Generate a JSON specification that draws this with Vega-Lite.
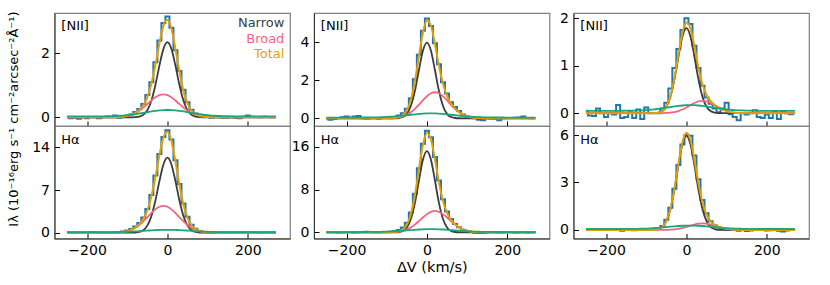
{
"$schema": "https://vega.github.io/schema/vega-lite/v6.json",
"padding": {"left": 7.5, "top": 10, "right": 10, "bottom": 8},
"background": "white",
"title": {"text": "Iλ (10⁻¹⁶erg s⁻¹ cm⁻²arcsec⁻²Å⁻¹)", "orient": "left", "anchor": "middle", "fontSize": 13, "fontWeight": "normal", "font": "DejaVu Sans", "color": "#000", "offset": 10, "dx": 23.5},
"config": {
  "font": "DejaVu Sans",
  "view": {"stroke": "#808080", "strokeWidth": 1.2},
  "axis": {"grid": false, "tickSize": -5, "tickColor": "#000", "tickWidth": 1, "labelFontSize": 14, "labelColor": "#000", "labelFont": "DejaVu Sans", "domainColor": "#333", "domainWidth": 1, "labelPadding": 10, "labelOverlap": false, "labelFlush": false, "titleFontSize": 14.5, "titleFontWeight": "normal", "titleColor": "#000", "titleFont": "DejaVu Sans", "titlePadding": 3},
  "line": {"strokeWidth": 1.8},
  "text": {"font": "DejaVu Sans", "fontSize": 13, "baseline": "middle"}
},
"datasets": {
"d": [
{"p":1,"v":-250,"h":0.01,"n":0,"b":0,"t":0,"g":0.03},
{"p":1,"v":-240,"h":-0.03,"n":0,"b":0,"t":0,"g":0.03},
{"p":1,"v":-230,"h":-0.02,"n":0,"b":0,"t":0,"g":0.03},
{"p":1,"v":-220,"h":-0.04,"n":0,"b":0,"t":0,"g":0.03},
{"p":1,"v":-210,"h":0,"n":0,"b":0,"t":0,"g":0.03},
{"p":1,"v":-200,"h":-0.03,"n":0,"b":0,"t":0,"g":0.03},
{"p":1,"v":-190,"h":0.01,"n":0,"b":0,"t":0,"g":0.03},
{"p":1,"v":-180,"h":0,"n":0,"b":0,"t":0,"g":0.031},
{"p":1,"v":-170,"h":-0.03,"n":0,"b":0,"t":0,"g":0.032},
{"p":1,"v":-160,"h":0,"n":0,"b":0,"t":0,"g":0.033},
{"p":1,"v":-150,"h":0.02,"n":0,"b":0.001,"t":0.001,"g":0.035},
{"p":1,"v":-140,"h":0,"n":0,"b":0.002,"t":0.002,"g":0.038},
{"p":1,"v":-130,"h":0.06,"n":0,"b":0.005,"t":0.005,"g":0.042},
{"p":1,"v":-120,"h":-0.01,"n":0,"b":0.011,"t":0.011,"g":0.049},
{"p":1,"v":-110,"h":0.02,"n":0,"b":0.023,"t":0.023,"g":0.057},
{"p":1,"v":-100,"h":0.05,"n":0,"b":0.044,"t":0.044,"g":0.068},
{"p":1,"v":-90,"h":0.09,"n":0.001,"b":0.079,"t":0.08,"g":0.082},
{"p":1,"v":-80,"h":0.17,"n":0.006,"b":0.132,"t":0.138,"g":0.099},
{"p":1,"v":-70,"h":0.26,"n":0.023,"b":0.207,"t":0.23,"g":0.119},
{"p":1,"v":-60,"h":0.42,"n":0.078,"b":0.303,"t":0.381,"g":0.14},
{"p":1,"v":-50,"h":0.7,"n":0.221,"b":0.414,"t":0.635,"g":0.162},
{"p":1,"v":-40,"h":1.1,"n":0.518,"b":0.527,"t":1.045,"g":0.184},
{"p":1,"v":-30,"h":1.72,"n":1.003,"b":0.627,"t":1.63,"g":0.202},
{"p":1,"v":-20,"h":2.4,"n":1.61,"b":0.696,"t":2.306,"g":0.217},
{"p":1,"v":-10,"h":2.95,"n":2.139,"b":0.72,"t":2.859,"g":0.227},
{"p":1,"v":0,"h":3.15,"n":2.35,"b":0.696,"t":3.046,"g":0.23},
{"p":1,"v":10,"h":2.8,"n":2.139,"b":0.627,"t":2.766,"g":0.227},
{"p":1,"v":20,"h":2.1,"n":1.61,"b":0.527,"t":2.137,"g":0.217},
{"p":1,"v":30,"h":1.45,"n":1.003,"b":0.414,"t":1.417,"g":0.202},
{"p":1,"v":40,"h":0.86,"n":0.518,"b":0.303,"t":0.821,"g":0.184},
{"p":1,"v":50,"h":0.47,"n":0.221,"b":0.207,"t":0.428,"g":0.162},
{"p":1,"v":60,"h":0.24,"n":0.078,"b":0.132,"t":0.21,"g":0.14},
{"p":1,"v":70,"h":0.12,"n":0.023,"b":0.079,"t":0.102,"g":0.119},
{"p":1,"v":80,"h":0.05,"n":0.006,"b":0.044,"t":0.05,"g":0.099},
{"p":1,"v":90,"h":0.04,"n":0.001,"b":0.023,"t":0.024,"g":0.082},
{"p":1,"v":100,"h":0.03,"n":0,"b":0.011,"t":0.011,"g":0.068},
{"p":1,"v":110,"h":-0.01,"n":0,"b":0.005,"t":0.005,"g":0.057},
{"p":1,"v":120,"h":0.03,"n":0,"b":0.002,"t":0.002,"g":0.049},
{"p":1,"v":130,"h":0,"n":0,"b":0.001,"t":0.001,"g":0.042},
{"p":1,"v":140,"h":-0.02,"n":0,"b":0,"t":0,"g":0.038},
{"p":1,"v":150,"h":-0.01,"n":0,"b":0,"t":0,"g":0.035},
{"p":1,"v":160,"h":0.02,"n":0,"b":0,"t":0,"g":0.033},
{"p":1,"v":170,"h":-0.02,"n":0,"b":0,"t":0,"g":0.032},
{"p":1,"v":180,"h":-0.03,"n":0,"b":0,"t":0,"g":0.031},
{"p":1,"v":190,"h":0.02,"n":0,"b":0,"t":0,"g":0.03},
{"p":1,"v":200,"h":0.06,"n":0,"b":0,"t":0,"g":0.03},
{"p":1,"v":210,"h":0.02,"n":0,"b":0,"t":0,"g":0.03},
{"p":1,"v":220,"h":0.01,"n":0,"b":0,"t":0,"g":0.03},
{"p":1,"v":230,"h":0,"n":0,"b":0,"t":0,"g":0.03},
{"p":1,"v":240,"h":0.02,"n":0,"b":0,"t":0,"g":0.03},
{"p":1,"v":250,"h":0.01,"n":0,"b":0,"t":0,"g":0.03},
{"p":1,"v":260,"h":0,"n":0,"b":0,"t":0,"g":0.03},
{"p":1,"v":270,"h":0.01,"n":0,"b":0,"t":0,"g":0.03},

{"p":2,"v":-250,"h":0.05,"n":0,"b":0,"t":0,"g":0.08},
{"p":2,"v":-240,"h":0,"n":0,"b":0,"t":0,"g":0.08},
{"p":2,"v":-230,"h":-0.05,"n":0,"b":0,"t":0,"g":0.08},
{"p":2,"v":-220,"h":0.03,"n":0,"b":0,"t":0,"g":0.08},
{"p":2,"v":-210,"h":0,"n":0,"b":0,"t":0,"g":0.08},
{"p":2,"v":-200,"h":-0.04,"n":0,"b":0,"t":0,"g":0.08},
{"p":2,"v":-190,"h":0.02,"n":0,"b":0,"t":0,"g":0.081},
{"p":2,"v":-180,"h":0.06,"n":0,"b":0,"t":0,"g":0.082},
{"p":2,"v":-170,"h":-0.03,"n":0,"b":0,"t":0,"g":0.083},
{"p":2,"v":-160,"h":0,"n":0,"b":0,"t":0,"g":0.086},
{"p":2,"v":-150,"h":-0.05,"n":0,"b":0.005,"t":0.005,"g":0.09},
{"p":2,"v":-140,"h":0.04,"n":0,"b":0.013,"t":0.013,"g":0.096},
{"p":2,"v":-130,"h":0.05,"n":0,"b":0.03,"t":0.03,"g":0.104},
{"p":2,"v":-120,"h":0.1,"n":0,"b":0.066,"t":0.066,"g":0.117},
{"p":2,"v":-110,"h":0.2,"n":0,"b":0.138,"t":0.138,"g":0.134},
{"p":2,"v":-100,"h":0.35,"n":0,"b":0.266,"t":0.266,"g":0.157},
{"p":2,"v":-90,"h":0.62,"n":0.006,"b":0.48,"t":0.486,"g":0.185},
{"p":2,"v":-80,"h":1.0,"n":0.03,"b":0.807,"t":0.837,"g":0.219},
{"p":2,"v":-70,"h":1.6,"n":0.12,"b":1.265,"t":1.385,"g":0.258},
{"p":2,"v":-60,"h":2.5,"n":0.41,"b":1.852,"t":2.262,"g":0.301},
{"p":2,"v":-50,"h":3.9,"n":1.157,"b":2.53,"t":3.687,"g":0.345},
{"p":2,"v":-40,"h":6.2,"n":2.71,"b":3.221,"t":5.931,"g":0.387},
{"p":2,"v":-30,"h":9.4,"n":5.25,"b":3.832,"t":9.082,"g":0.425},
{"p":2,"v":-20,"h":12.9,"n":8.43,"b":4.25,"t":12.68,"g":0.454},
{"p":2,"v":-10,"h":15.7,"n":11.19,"b":4.4,"t":15.59,"g":0.474},
{"p":2,"v":0,"h":16.8,"n":12.3,"b":4.25,"t":16.55,"g":0.48},
{"p":2,"v":10,"h":15.3,"n":11.19,"b":3.832,"t":15.02,"g":0.474},
{"p":2,"v":20,"h":11.9,"n":8.43,"b":3.221,"t":11.65,"g":0.454},
{"p":2,"v":30,"h":8.0,"n":5.25,"b":2.53,"t":7.78,"g":0.425},
{"p":2,"v":40,"h":4.8,"n":2.71,"b":1.852,"t":4.56,"g":0.387},
{"p":2,"v":50,"h":2.6,"n":1.157,"b":1.265,"t":2.42,"g":0.345},
{"p":2,"v":60,"h":1.3,"n":0.41,"b":0.807,"t":1.217,"g":0.301},
{"p":2,"v":70,"h":0.65,"n":0.12,"b":0.48,"t":0.6,"g":0.258},
{"p":2,"v":80,"h":0.3,"n":0.03,"b":0.266,"t":0.296,"g":0.219},
{"p":2,"v":90,"h":0.12,"n":0.006,"b":0.138,"t":0.144,"g":0.185},
{"p":2,"v":100,"h":0.06,"n":0,"b":0.066,"t":0.066,"g":0.157},
{"p":2,"v":110,"h":0,"n":0,"b":0.03,"t":0.03,"g":0.134},
{"p":2,"v":120,"h":-0.04,"n":0,"b":0.013,"t":0.013,"g":0.117},
{"p":2,"v":130,"h":0.03,"n":0,"b":0.005,"t":0.005,"g":0.104},
{"p":2,"v":140,"h":0,"n":0,"b":0,"t":0,"g":0.096},
{"p":2,"v":150,"h":0.05,"n":0,"b":0,"t":0,"g":0.09},
{"p":2,"v":160,"h":-0.02,"n":0,"b":0,"t":0,"g":0.086},
{"p":2,"v":170,"h":0,"n":0,"b":0,"t":0,"g":0.083},
{"p":2,"v":180,"h":0.04,"n":0,"b":0,"t":0,"g":0.082},
{"p":2,"v":190,"h":-0.03,"n":0,"b":0,"t":0,"g":0.081},
{"p":2,"v":200,"h":0.02,"n":0,"b":0,"t":0,"g":0.08},
{"p":2,"v":210,"h":0.06,"n":0,"b":0,"t":0,"g":0.08},
{"p":2,"v":220,"h":0,"n":0,"b":0,"t":0,"g":0.08},
{"p":2,"v":230,"h":-0.04,"n":0,"b":0,"t":0,"g":0.08},
{"p":2,"v":240,"h":0.02,"n":0,"b":0,"t":0,"g":0.08},
{"p":2,"v":250,"h":0,"n":0,"b":0,"t":0,"g":0.08},
{"p":2,"v":260,"h":0.03,"n":0,"b":0,"t":0,"g":0.08},
{"p":2,"v":270,"h":0,"n":0,"b":0,"t":0,"g":0.08},

{"p":3,"v":-250,"h":-0.03,"n":0,"b":0,"t":0,"g":0.04},
{"p":3,"v":-240,"h":-0.08,"n":0,"b":0,"t":0,"g":0.04},
{"p":3,"v":-230,"h":-0.04,"n":0,"b":0,"t":0,"g":0.04},
{"p":3,"v":-220,"h":0.02,"n":0,"b":0,"t":0,"g":0.04},
{"p":3,"v":-210,"h":0.05,"n":0,"b":0,"t":0,"g":0.04},
{"p":3,"v":-200,"h":0.1,"n":0,"b":0,"t":0,"g":0.04},
{"p":3,"v":-190,"h":0.04,"n":0,"b":0,"t":0,"g":0.04},
{"p":3,"v":-180,"h":0.1,"n":0,"b":0,"t":0,"g":0.04},
{"p":3,"v":-170,"h":0.12,"n":0,"b":0,"t":0,"g":0.041},
{"p":3,"v":-160,"h":0,"n":0,"b":0,"t":0,"g":0.042},
{"p":3,"v":-150,"h":-0.03,"n":0,"b":0,"t":0,"g":0.043},
{"p":3,"v":-140,"h":0,"n":0,"b":0,"t":0,"g":0.045},
{"p":3,"v":-130,"h":0.02,"n":0,"b":0,"t":0,"g":0.049},
{"p":3,"v":-120,"h":-0.02,"n":0,"b":0,"t":0,"g":0.054},
{"p":3,"v":-110,"h":0.01,"n":0,"b":0.001,"t":0.001,"g":0.06},
{"p":3,"v":-100,"h":0.03,"n":0,"b":0.004,"t":0.004,"g":0.07},
{"p":3,"v":-90,"h":0,"n":0,"b":0.01,"t":0.01,"g":0.082},
{"p":3,"v":-80,"h":0.05,"n":0.003,"b":0.023,"t":0.026,"g":0.098},
{"p":3,"v":-70,"h":0.15,"n":0.016,"b":0.05,"t":0.066,"g":0.116},
{"p":3,"v":-60,"h":0.27,"n":0.067,"b":0.101,"t":0.168,"g":0.138},
{"p":3,"v":-50,"h":0.5,"n":0.234,"b":0.185,"t":0.419,"g":0.161},
{"p":3,"v":-40,"h":1.05,"n":0.649,"b":0.315,"t":0.964,"g":0.186},
{"p":3,"v":-30,"h":2.05,"n":1.433,"b":0.493,"t":1.926,"g":0.209},
{"p":3,"v":-20,"h":3.35,"n":2.527,"b":0.712,"t":3.239,"g":0.23},
{"p":3,"v":-10,"h":4.6,"n":3.554,"b":0.949,"t":4.503,"g":0.246},
{"p":3,"v":0,"h":5.25,"n":3.98,"b":1.163,"t":5.143,"g":0.257},
{"p":3,"v":10,"h":4.85,"n":3.554,"b":1.315,"t":4.869,"g":0.26},
{"p":3,"v":20,"h":3.95,"n":2.527,"b":1.37,"t":3.897,"g":0.257},
{"p":3,"v":30,"h":2.85,"n":1.433,"b":1.315,"t":2.748,"g":0.246},
{"p":3,"v":40,"h":1.9,"n":0.649,"b":1.163,"t":1.812,"g":0.23},
{"p":3,"v":50,"h":1.3,"n":0.234,"b":0.949,"t":1.183,"g":0.209},
{"p":3,"v":60,"h":0.85,"n":0.067,"b":0.712,"t":0.779,"g":0.186},
{"p":3,"v":70,"h":0.6,"n":0.016,"b":0.493,"t":0.509,"g":0.161},
{"p":3,"v":80,"h":0.38,"n":0.003,"b":0.315,"t":0.318,"g":0.138},
{"p":3,"v":90,"h":0.2,"n":0,"b":0.185,"t":0.185,"g":0.116},
{"p":3,"v":100,"h":0.1,"n":0,"b":0.101,"t":0.101,"g":0.098},
{"p":3,"v":110,"h":0.02,"n":0,"b":0.05,"t":0.05,"g":0.082},
{"p":3,"v":120,"h":0,"n":0,"b":0.023,"t":0.023,"g":0.07},
{"p":3,"v":130,"h":-0.08,"n":0,"b":0.01,"t":0.01,"g":0.06},
{"p":3,"v":140,"h":-0.1,"n":0,"b":0.004,"t":0.004,"g":0.054},
{"p":3,"v":150,"h":0,"n":0,"b":0.001,"t":0.001,"g":0.049},
{"p":3,"v":160,"h":-0.02,"n":0,"b":0,"t":0,"g":0.045},
{"p":3,"v":170,"h":-0.02,"n":0,"b":0,"t":0,"g":0.043},
{"p":3,"v":180,"h":-0.1,"n":0,"b":0,"t":0,"g":0.042},
{"p":3,"v":190,"h":0,"n":0,"b":0,"t":0,"g":0.041},
{"p":3,"v":200,"h":0.02,"n":0,"b":0,"t":0,"g":0.04},
{"p":3,"v":210,"h":0.01,"n":0,"b":0,"t":0,"g":0.04},
{"p":3,"v":220,"h":0.03,"n":0,"b":0,"t":0,"g":0.04},
{"p":3,"v":230,"h":0.04,"n":0,"b":0,"t":0,"g":0.04},
{"p":3,"v":240,"h":0.1,"n":0,"b":0,"t":0,"g":0.04},
{"p":3,"v":250,"h":0.02,"n":0,"b":0,"t":0,"g":0.04},
{"p":3,"v":260,"h":0,"n":0,"b":0,"t":0,"g":0.04},
{"p":3,"v":270,"h":0.02,"n":0,"b":0,"t":0,"g":0.04},

{"p":4,"v":-250,"h":0,"n":0,"b":0,"t":0,"g":0.05},
{"p":4,"v":-240,"h":0.05,"n":0,"b":0,"t":0,"g":0.05},
{"p":4,"v":-230,"h":0,"n":0,"b":0,"t":0,"g":0.05},
{"p":4,"v":-220,"h":-0.05,"n":0,"b":0,"t":0,"g":0.05},
{"p":4,"v":-210,"h":0.02,"n":0,"b":0,"t":0,"g":0.05},
{"p":4,"v":-200,"h":0,"n":0,"b":0,"t":0,"g":0.05},
{"p":4,"v":-190,"h":0.04,"n":0,"b":0,"t":0,"g":0.05},
{"p":4,"v":-180,"h":-0.03,"n":0,"b":0,"t":0,"g":0.052},
{"p":4,"v":-170,"h":0,"n":0,"b":0,"t":0,"g":0.053},
{"p":4,"v":-160,"h":0.05,"n":0,"b":0,"t":0,"g":0.055},
{"p":4,"v":-150,"h":0.12,"n":0,"b":0,"t":0,"g":0.058},
{"p":4,"v":-140,"h":0.08,"n":0,"b":0,"t":0,"g":0.063},
{"p":4,"v":-130,"h":0,"n":0,"b":0,"t":0,"g":0.072},
{"p":4,"v":-120,"h":0.03,"n":0,"b":0,"t":0,"g":0.084},
{"p":4,"v":-110,"h":0.05,"n":0,"b":0.004,"t":0.004,"g":0.101},
{"p":4,"v":-100,"h":0.06,"n":0,"b":0.011,"t":0.011,"g":0.124},
{"p":4,"v":-90,"h":0.1,"n":0,"b":0.029,"t":0.029,"g":0.155},
{"p":4,"v":-80,"h":0.2,"n":0.011,"b":0.068,"t":0.079,"g":0.194},
{"p":4,"v":-70,"h":0.45,"n":0.059,"b":0.147,"t":0.206,"g":0.241},
{"p":4,"v":-60,"h":0.9,"n":0.257,"b":0.294,"t":0.551,"g":0.295},
{"p":4,"v":-50,"h":1.8,"n":0.894,"b":0.541,"t":1.435,"g":0.353},
{"p":4,"v":-40,"h":3.7,"n":2.478,"b":0.92,"t":3.398,"g":0.414},
{"p":4,"v":-30,"h":7.2,"n":5.47,"b":1.44,"t":6.91,"g":0.472},
{"p":4,"v":-20,"h":12.0,"n":9.65,"b":2.08,"t":11.73,"g":0.524},
{"p":4,"v":-10,"h":16.6,"n":13.57,"b":2.772,"t":16.34,"g":0.565},
{"p":4,"v":0,"h":19.0,"n":15.2,"b":3.396,"t":18.6,"g":0.591},
{"p":4,"v":10,"h":17.8,"n":13.57,"b":3.84,"t":17.41,"g":0.6},
{"p":4,"v":20,"h":14.1,"n":9.65,"b":4.0,"t":13.65,"g":0.591},
{"p":4,"v":30,"h":9.7,"n":5.47,"b":3.84,"t":9.31,"g":0.565},
{"p":4,"v":40,"h":6.2,"n":2.478,"b":3.396,"t":5.874,"g":0.524},
{"p":4,"v":50,"h":3.9,"n":0.894,"b":2.772,"t":3.666,"g":0.472},
{"p":4,"v":60,"h":2.5,"n":0.257,"b":2.08,"t":2.337,"g":0.414},
{"p":4,"v":70,"h":1.55,"n":0.059,"b":1.44,"t":1.499,"g":0.353},
{"p":4,"v":80,"h":0.95,"n":0.011,"b":0.92,"t":0.931,"g":0.295},
{"p":4,"v":90,"h":0.5,"n":0,"b":0.541,"t":0.541,"g":0.241},
{"p":4,"v":100,"h":0.25,"n":0,"b":0.294,"t":0.294,"g":0.194},
{"p":4,"v":110,"h":0.08,"n":0,"b":0.147,"t":0.147,"g":0.155},
{"p":4,"v":120,"h":-0.1,"n":0,"b":0.068,"t":0.068,"g":0.124},
{"p":4,"v":130,"h":-0.15,"n":0,"b":0.029,"t":0.029,"g":0.101},
{"p":4,"v":140,"h":-0.12,"n":0,"b":0.011,"t":0.011,"g":0.084},
{"p":4,"v":150,"h":-0.05,"n":0,"b":0.004,"t":0.004,"g":0.072},
{"p":4,"v":160,"h":0.02,"n":0,"b":0,"t":0,"g":0.063},
{"p":4,"v":170,"h":0,"n":0,"b":0,"t":0,"g":0.058},
{"p":4,"v":180,"h":-0.04,"n":0,"b":0,"t":0,"g":0.055},
{"p":4,"v":190,"h":0.03,"n":0,"b":0,"t":0,"g":0.053},
{"p":4,"v":200,"h":0,"n":0,"b":0,"t":0,"g":0.052},
{"p":4,"v":210,"h":0.05,"n":0,"b":0,"t":0,"g":0.05},
{"p":4,"v":220,"h":-0.02,"n":0,"b":0,"t":0,"g":0.05},
{"p":4,"v":230,"h":0,"n":0,"b":0,"t":0,"g":0.05},
{"p":4,"v":240,"h":0.04,"n":0,"b":0,"t":0,"g":0.05},
{"p":4,"v":250,"h":-0.03,"n":0,"b":0,"t":0,"g":0.05},
{"p":4,"v":260,"h":0.02,"n":0,"b":0,"t":0,"g":0.05},
{"p":4,"v":270,"h":0,"n":0,"b":0,"t":0,"g":0.05},

{"p":5,"v":-250,"h":0.05,"n":0,"b":0,"t":0,"g":0.05},
{"p":5,"v":-240,"h":-0.05,"n":0,"b":0,"t":0,"g":0.05},
{"p":5,"v":-230,"h":-0.06,"n":0,"b":0,"t":0,"g":0.05},
{"p":5,"v":-220,"h":0.1,"n":0,"b":0,"t":0,"g":0.05},
{"p":5,"v":-210,"h":0,"n":0,"b":0,"t":0,"g":0.05},
{"p":5,"v":-200,"h":-0.08,"n":0,"b":0,"t":0,"g":0.05},
{"p":5,"v":-190,"h":0,"n":0,"b":0,"t":0,"g":0.05},
{"p":5,"v":-180,"h":-0.03,"n":0,"b":0,"t":0,"g":0.05},
{"p":5,"v":-170,"h":0.17,"n":0,"b":0,"t":0,"g":0.05},
{"p":5,"v":-160,"h":-0.1,"n":0,"b":0,"t":0,"g":0.051},
{"p":5,"v":-150,"h":-0.08,"n":0,"b":0,"t":0,"g":0.052},
{"p":5,"v":-140,"h":0.02,"n":0,"b":0,"t":0,"g":0.053},
{"p":5,"v":-130,"h":-0.1,"n":0,"b":0,"t":0,"g":0.055},
{"p":5,"v":-120,"h":0.08,"n":0,"b":0,"t":0,"g":0.057},
{"p":5,"v":-110,"h":-0.12,"n":0,"b":0,"t":0,"g":0.061},
{"p":5,"v":-100,"h":0.12,"n":0,"b":0,"t":0,"g":0.066},
{"p":5,"v":-90,"h":0,"n":0,"b":0,"t":0,"g":0.073},
{"p":5,"v":-80,"h":0,"n":0.002,"b":0,"t":0.002,"g":0.081},
{"p":5,"v":-70,"h":0,"n":0.011,"b":0,"t":0.011,"g":0.092},
{"p":5,"v":-60,"h":0.1,"n":0.044,"b":0.002,"t":0.046,"g":0.103},
{"p":5,"v":-50,"h":0.22,"n":0.135,"b":0.005,"t":0.14,"g":0.116},
{"p":5,"v":-40,"h":0.52,"n":0.343,"b":0.011,"t":0.354,"g":0.129},
{"p":5,"v":-30,"h":0.95,"n":0.706,"b":0.024,"t":0.73,"g":0.142},
{"p":5,"v":-20,"h":1.35,"n":1.184,"b":0.045,"t":1.229,"g":0.153},
{"p":5,"v":-10,"h":1.75,"n":1.615,"b":0.077,"t":1.692,"g":0.162},
{"p":5,"v":0,"h":2.0,"n":1.79,"b":0.119,"t":1.909,"g":0.168},
{"p":5,"v":10,"h":1.88,"n":1.615,"b":0.167,"t":1.782,"g":0.17},
{"p":5,"v":20,"h":1.42,"n":1.184,"b":0.214,"t":1.398,"g":0.168},
{"p":5,"v":30,"h":0.95,"n":0.706,"b":0.248,"t":0.954,"g":0.162},
{"p":5,"v":40,"h":0.58,"n":0.343,"b":0.26,"t":0.603,"g":0.153},
{"p":5,"v":50,"h":0.33,"n":0.135,"b":0.248,"t":0.383,"g":0.142},
{"p":5,"v":60,"h":0.2,"n":0.044,"b":0.214,"t":0.258,"g":0.129},
{"p":5,"v":70,"h":0.1,"n":0.011,"b":0.167,"t":0.178,"g":0.116},
{"p":5,"v":80,"h":0.02,"n":0.002,"b":0.119,"t":0.121,"g":0.103},
{"p":5,"v":90,"h":0.1,"n":0,"b":0.077,"t":0.077,"g":0.092},
{"p":5,"v":100,"h":0.22,"n":0,"b":0.045,"t":0.045,"g":0.081},
{"p":5,"v":110,"h":-0.02,"n":0,"b":0.024,"t":0.024,"g":0.073},
{"p":5,"v":120,"h":-0.08,"n":0,"b":0.011,"t":0.011,"g":0.066},
{"p":5,"v":130,"h":-0.15,"n":0,"b":0.005,"t":0.005,"g":0.061},
{"p":5,"v":140,"h":0,"n":0,"b":0.002,"t":0.002,"g":0.057},
{"p":5,"v":150,"h":-0.03,"n":0,"b":0,"t":0,"g":0.055},
{"p":5,"v":160,"h":0,"n":0,"b":0,"t":0,"g":0.053},
{"p":5,"v":170,"h":0.06,"n":0,"b":0,"t":0,"g":0.052},
{"p":5,"v":180,"h":-0.08,"n":0,"b":0,"t":0,"g":0.051},
{"p":5,"v":190,"h":-0.1,"n":0,"b":0,"t":0,"g":0.05},
{"p":5,"v":200,"h":-0.03,"n":0,"b":0,"t":0,"g":0.05},
{"p":5,"v":210,"h":-0.1,"n":0,"b":0,"t":0,"g":0.05},
{"p":5,"v":220,"h":0.04,"n":0,"b":0,"t":0,"g":0.05},
{"p":5,"v":230,"h":-0.12,"n":0,"b":0,"t":0,"g":0.05},
{"p":5,"v":240,"h":0.03,"n":0,"b":0,"t":0,"g":0.05},
{"p":5,"v":250,"h":0,"n":0,"b":0,"t":0,"g":0.05},
{"p":5,"v":260,"h":-0.02,"n":0,"b":0,"t":0,"g":0.05},
{"p":5,"v":270,"h":0,"n":0,"b":0,"t":0,"g":0.05},

{"p":6,"v":-250,"h":0,"n":0,"b":0,"t":0,"g":0.06},
{"p":6,"v":-240,"h":0.02,"n":0,"b":0,"t":0,"g":0.06},
{"p":6,"v":-230,"h":0.05,"n":0,"b":0,"t":0,"g":0.06},
{"p":6,"v":-220,"h":0,"n":0,"b":0,"t":0,"g":0.06},
{"p":6,"v":-210,"h":0.03,"n":0,"b":0,"t":0,"g":0.06},
{"p":6,"v":-200,"h":0.06,"n":0,"b":0,"t":0,"g":0.06},
{"p":6,"v":-190,"h":0.04,"n":0,"b":0,"t":0,"g":0.06},
{"p":6,"v":-180,"h":0,"n":0,"b":0,"t":0,"g":0.06},
{"p":6,"v":-170,"h":0.02,"n":0,"b":0,"t":0,"g":0.061},
{"p":6,"v":-160,"h":-0.05,"n":0,"b":0,"t":0,"g":0.062},
{"p":6,"v":-150,"h":0,"n":0,"b":0,"t":0,"g":0.063},
{"p":6,"v":-140,"h":0.04,"n":0,"b":0,"t":0,"g":0.065},
{"p":6,"v":-130,"h":-0.02,"n":0,"b":0,"t":0,"g":0.069},
{"p":6,"v":-120,"h":0,"n":0,"b":0,"t":0,"g":0.074},
{"p":6,"v":-110,"h":0.05,"n":0,"b":0,"t":0,"g":0.08},
{"p":6,"v":-100,"h":0.02,"n":0,"b":0,"t":0,"g":0.09},
{"p":6,"v":-90,"h":0,"n":0.003,"b":0,"t":0.003,"g":0.102},
{"p":6,"v":-80,"h":0.03,"n":0.014,"b":0,"t":0.014,"g":0.118},
{"p":6,"v":-70,"h":0.08,"n":0.058,"b":0.001,"t":0.059,"g":0.136},
{"p":6,"v":-60,"h":0.25,"n":0.198,"b":0.003,"t":0.201,"g":0.158},
{"p":6,"v":-50,"h":0.65,"n":0.56,"b":0.008,"t":0.568,"g":0.181},
{"p":6,"v":-40,"h":1.4,"n":1.311,"b":0.018,"t":1.329,"g":0.206},
{"p":6,"v":-30,"h":2.6,"n":2.541,"b":0.038,"t":2.579,"g":0.229},
{"p":6,"v":-20,"h":4.1,"n":4.076,"b":0.072,"t":4.148,"g":0.25},
{"p":6,"v":-10,"h":5.4,"n":5.415,"b":0.124,"t":5.539,"g":0.266},
{"p":6,"v":0,"h":6.0,"n":5.95,"b":0.192,"t":6.142,"g":0.277},
{"p":6,"v":10,"h":5.95,"n":5.415,"b":0.27,"t":5.685,"g":0.28},
{"p":6,"v":20,"h":4.7,"n":4.076,"b":0.345,"t":4.421,"g":0.277},
{"p":6,"v":30,"h":3.2,"n":2.541,"b":0.4,"t":2.941,"g":0.266},
{"p":6,"v":40,"h":1.9,"n":1.311,"b":0.42,"t":1.731,"g":0.25},
{"p":6,"v":50,"h":1.05,"n":0.56,"b":0.4,"t":0.96,"g":0.229},
{"p":6,"v":60,"h":0.55,"n":0.198,"b":0.345,"t":0.543,"g":0.206},
{"p":6,"v":70,"h":0.3,"n":0.058,"b":0.27,"t":0.328,"g":0.181},
{"p":6,"v":80,"h":0.15,"n":0.014,"b":0.192,"t":0.206,"g":0.158},
{"p":6,"v":90,"h":0.06,"n":0.003,"b":0.124,"t":0.127,"g":0.136},
{"p":6,"v":100,"h":0.02,"n":0,"b":0.072,"t":0.072,"g":0.118},
{"p":6,"v":110,"h":0,"n":0,"b":0.038,"t":0.038,"g":0.102},
{"p":6,"v":120,"h":0.05,"n":0,"b":0.018,"t":0.018,"g":0.09},
{"p":6,"v":130,"h":-0.05,"n":0,"b":0.008,"t":0.008,"g":0.08},
{"p":6,"v":140,"h":0,"n":0,"b":0.003,"t":0.003,"g":0.074},
{"p":6,"v":150,"h":-0.07,"n":0,"b":0.001,"t":0.001,"g":0.069},
{"p":6,"v":160,"h":-0.03,"n":0,"b":0,"t":0,"g":0.065},
{"p":6,"v":170,"h":0.02,"n":0,"b":0,"t":0,"g":0.063},
{"p":6,"v":180,"h":0,"n":0,"b":0,"t":0,"g":0.062},
{"p":6,"v":190,"h":0.05,"n":0,"b":0,"t":0,"g":0.061},
{"p":6,"v":200,"h":-0.04,"n":0,"b":0,"t":0,"g":0.06},
{"p":6,"v":210,"h":-0.02,"n":0,"b":0,"t":0,"g":0.06},
{"p":6,"v":220,"h":0,"n":0,"b":0,"t":0,"g":0.06},
{"p":6,"v":230,"h":-0.05,"n":0,"b":0,"t":0,"g":0.06},
{"p":6,"v":240,"h":-0.1,"n":0,"b":0,"t":0,"g":0.06},
{"p":6,"v":250,"h":-0.03,"n":0,"b":0,"t":0,"g":0.06},
{"p":6,"v":260,"h":0.02,"n":0,"b":0,"t":0,"g":0.06},
{"p":6,"v":270,"h":0,"n":0,"b":0,"t":0,"g":0.06}
]
},
"columns": 3,
"spacing": {"row": 0, "column": 23.5},
"bounds": "flush",
"concat": [
{
 "width": 235.5, "height": 113,
 "data": {"name": "d"}, "transform": [{"filter": "datum.p == 1"}],
 "encoding": {"x": {"field": "v", "type": "quantitative", "title": null, "scale": {"domain": [-281, 305], "nice": false, "zero": false}, "axis": {"values": [-200, 0, 200], "labels": false}}},
 "layer": [
  {"mark": {"type": "line", "interpolate": "step", "color": "#1f77b4", "strokeWidth": 2}, "encoding": {"y": {"field": "h", "type": "quantitative", "title": null, "scale": {"domain": [-0.27, 3.26], "nice": false, "zero": false}, "axis": {"values": [0, 2], "format": "d"}}}},
  {"mark": {"type": "line", "interpolate": "monotone", "color": "#3d3d3d"}, "encoding": {"y": {"field": "n", "type": "quantitative", "title": null}}},
  {"mark": {"type": "line", "interpolate": "monotone", "color": "#f0677c"}, "encoding": {"y": {"field": "b", "type": "quantitative", "title": null}}},
  {"mark": {"type": "line", "interpolate": "monotone", "color": "#e69f00", "strokeWidth": 2}, "encoding": {"y": {"field": "t", "type": "quantitative", "title": null}}},
  {"mark": {"type": "line", "interpolate": "monotone", "color": "#1aa77a"}, "encoding": {"y": {"field": "g", "type": "quantitative", "title": null}}},
  {"transform": [{"filter": "datum.v == 0"}], "mark": {"type": "text", "align": "left", "color": "#000"}, "encoding": {"x": {"datum": -264, "type": "quantitative"}, "y": {"datum": 2.85, "type": "quantitative"}, "text": {"value": "[NII]"}}},
  {"transform": [{"filter": "datum.v == 0"}], "mark": {"type": "text", "align": "right", "color": "#3d3d3d"}, "encoding": {"x": {"datum": 291, "type": "quantitative"}, "y": {"datum": 2.957, "type": "quantitative"}, "text": {"value": "Narrow"}}},
  {"transform": [{"filter": "datum.v == 0"}], "mark": {"type": "text", "align": "right", "color": "#f0677c"}, "encoding": {"x": {"datum": 291, "type": "quantitative"}, "y": {"datum": 2.447, "type": "quantitative"}, "text": {"value": "Broad"}}},
  {"transform": [{"filter": "datum.v == 0"}], "mark": {"type": "text", "align": "right", "color": "#e69f00"}, "encoding": {"x": {"datum": 291, "type": "quantitative"}, "y": {"datum": 1.97, "type": "quantitative"}, "text": {"value": "Total"}}}
 ]
},
{
 "width": 235.5, "height": 113,
 "data": {"name": "d"}, "transform": [{"filter": "datum.p == 3"}],
 "encoding": {"x": {"field": "v", "type": "quantitative", "title": null, "scale": {"domain": [-281, 305], "nice": false, "zero": false}, "axis": {"values": [-200, 0, 200], "labels": false}}},
 "layer": [
  {"mark": {"type": "line", "interpolate": "step", "color": "#1f77b4", "strokeWidth": 2}, "encoding": {"y": {"field": "h", "type": "quantitative", "title": null, "scale": {"domain": [-0.405, 5.54], "nice": false, "zero": false}, "axis": {"values": [0, 2, 4], "format": "d"}}}},
  {"mark": {"type": "line", "interpolate": "monotone", "color": "#3d3d3d"}, "encoding": {"y": {"field": "n", "type": "quantitative", "title": null}}},
  {"mark": {"type": "line", "interpolate": "monotone", "color": "#f0677c"}, "encoding": {"y": {"field": "b", "type": "quantitative", "title": null}}},
  {"mark": {"type": "line", "interpolate": "monotone", "color": "#e69f00", "strokeWidth": 2}, "encoding": {"y": {"field": "t", "type": "quantitative", "title": null}}},
  {"mark": {"type": "line", "interpolate": "monotone", "color": "#1aa77a"}, "encoding": {"y": {"field": "g", "type": "quantitative", "title": null}}},
  {"transform": [{"filter": "datum.v == 0"}], "mark": {"type": "text", "align": "left", "color": "#000"}, "encoding": {"x": {"datum": -264, "type": "quantitative"}, "y": {"datum": 4.86, "type": "quantitative"}, "text": {"value": "[NII]"}}}
 ]
},
{
 "width": 235.5, "height": 113,
 "data": {"name": "d"}, "transform": [{"filter": "datum.p == 5"}],
 "encoding": {"x": {"field": "v", "type": "quantitative", "title": null, "scale": {"domain": [-281, 305], "nice": false, "zero": false}, "axis": {"values": [-200, 0, 200], "labels": false}}},
 "layer": [
  {"mark": {"type": "line", "interpolate": "step", "color": "#1f77b4", "strokeWidth": 2}, "encoding": {"y": {"field": "h", "type": "quantitative", "title": null, "scale": {"domain": [-0.27, 2.11], "nice": false, "zero": false}, "axis": {"values": [0, 1, 2], "format": "d"}}}},
  {"mark": {"type": "line", "interpolate": "monotone", "color": "#3d3d3d"}, "encoding": {"y": {"field": "n", "type": "quantitative", "title": null}}},
  {"mark": {"type": "line", "interpolate": "monotone", "color": "#f0677c"}, "encoding": {"y": {"field": "b", "type": "quantitative", "title": null}}},
  {"mark": {"type": "line", "interpolate": "monotone", "color": "#e69f00", "strokeWidth": 2}, "encoding": {"y": {"field": "t", "type": "quantitative", "title": null}}},
  {"mark": {"type": "line", "interpolate": "monotone", "color": "#1aa77a"}, "encoding": {"y": {"field": "g", "type": "quantitative", "title": null}}},
  {"transform": [{"filter": "datum.v == 0"}], "mark": {"type": "text", "align": "left", "color": "#000"}, "encoding": {"x": {"datum": -264, "type": "quantitative"}, "y": {"datum": 1.836, "type": "quantitative"}, "text": {"value": "[NII]"}}}
 ]
},
{
 "width": 235.5, "height": 112.5,
 "data": {"name": "d"}, "transform": [{"filter": "datum.p == 2"}],
 "encoding": {"x": {"field": "v", "type": "quantitative", "title": null, "scale": {"domain": [-281, 305], "nice": false, "zero": false}, "axis": {"values": [-200, 0, 200]}}},
 "layer": [
  {"mark": {"type": "line", "interpolate": "step", "color": "#1f77b4", "strokeWidth": 2}, "encoding": {"y": {"field": "h", "type": "quantitative", "title": null, "scale": {"domain": [-0.95, 17.5], "nice": false, "zero": false}, "axis": {"values": [0, 7, 14], "format": "d"}}}},
  {"mark": {"type": "line", "interpolate": "monotone", "color": "#3d3d3d"}, "encoding": {"y": {"field": "n", "type": "quantitative", "title": null}}},
  {"mark": {"type": "line", "interpolate": "monotone", "color": "#f0677c"}, "encoding": {"y": {"field": "b", "type": "quantitative", "title": null}}},
  {"mark": {"type": "line", "interpolate": "monotone", "color": "#e69f00", "strokeWidth": 2}, "encoding": {"y": {"field": "t", "type": "quantitative", "title": null}}},
  {"mark": {"type": "line", "interpolate": "monotone", "color": "#1aa77a"}, "encoding": {"y": {"field": "g", "type": "quantitative", "title": null}}},
  {"transform": [{"filter": "datum.v == 0"}], "mark": {"type": "text", "align": "left", "color": "#000"}, "encoding": {"x": {"datum": -264, "type": "quantitative"}, "y": {"datum": 15.19, "type": "quantitative"}, "text": {"value": "Hα"}}}
 ]
},
{
 "width": 235.5, "height": 112.5,
 "data": {"name": "d"}, "transform": [{"filter": "datum.p == 4"}],
 "encoding": {"x": {"field": "v", "type": "quantitative", "title": "ΔV (km/s)", "scale": {"domain": [-281, 305], "nice": false, "zero": false}, "axis": {"values": [-200, 0, 200]}}},
 "layer": [
  {"mark": {"type": "line", "interpolate": "step", "color": "#1f77b4", "strokeWidth": 2}, "encoding": {"y": {"field": "h", "type": "quantitative", "title": null, "scale": {"domain": [-1.16, 19.9], "nice": false, "zero": false}, "axis": {"values": [0, 8, 16], "format": "d"}}}},
  {"mark": {"type": "line", "interpolate": "monotone", "color": "#3d3d3d"}, "encoding": {"y": {"field": "n", "type": "quantitative", "title": null}}},
  {"mark": {"type": "line", "interpolate": "monotone", "color": "#f0677c"}, "encoding": {"y": {"field": "b", "type": "quantitative", "title": null}}},
  {"mark": {"type": "line", "interpolate": "monotone", "color": "#e69f00", "strokeWidth": 2}, "encoding": {"y": {"field": "t", "type": "quantitative", "title": null}}},
  {"mark": {"type": "line", "interpolate": "monotone", "color": "#1aa77a"}, "encoding": {"y": {"field": "g", "type": "quantitative", "title": null}}},
  {"transform": [{"filter": "datum.v == 0"}], "mark": {"type": "text", "align": "left", "color": "#000"}, "encoding": {"x": {"datum": -264, "type": "quantitative"}, "y": {"datum": 17.27, "type": "quantitative"}, "text": {"value": "Hα"}}}
 ]
},
{
 "width": 235.5, "height": 112.5,
 "data": {"name": "d"}, "transform": [{"filter": "datum.p == 6"}],
 "encoding": {"x": {"field": "v", "type": "quantitative", "title": null, "scale": {"domain": [-281, 305], "nice": false, "zero": false}, "axis": {"values": [-200, 0, 200]}}},
 "layer": [
  {"mark": {"type": "line", "interpolate": "step", "color": "#1f77b4", "strokeWidth": 2}, "encoding": {"y": {"field": "h", "type": "quantitative", "title": null, "scale": {"domain": [-0.54, 6.57], "nice": false, "zero": false}, "axis": {"values": [0, 3, 6], "format": "d"}}}},
  {"mark": {"type": "line", "interpolate": "monotone", "color": "#3d3d3d"}, "encoding": {"y": {"field": "n", "type": "quantitative", "title": null}}},
  {"mark": {"type": "line", "interpolate": "monotone", "color": "#f0677c"}, "encoding": {"y": {"field": "b", "type": "quantitative", "title": null}}},
  {"mark": {"type": "line", "interpolate": "monotone", "color": "#e69f00", "strokeWidth": 2}, "encoding": {"y": {"field": "t", "type": "quantitative", "title": null}}},
  {"mark": {"type": "line", "interpolate": "monotone", "color": "#1aa77a"}, "encoding": {"y": {"field": "g", "type": "quantitative", "title": null}}},
  {"transform": [{"filter": "datum.v == 0"}], "mark": {"type": "text", "align": "left", "color": "#000"}, "encoding": {"x": {"datum": -264, "type": "quantitative"}, "y": {"datum": 5.68, "type": "quantitative"}, "text": {"value": "Hα"}}}
 ]
}
]
}
